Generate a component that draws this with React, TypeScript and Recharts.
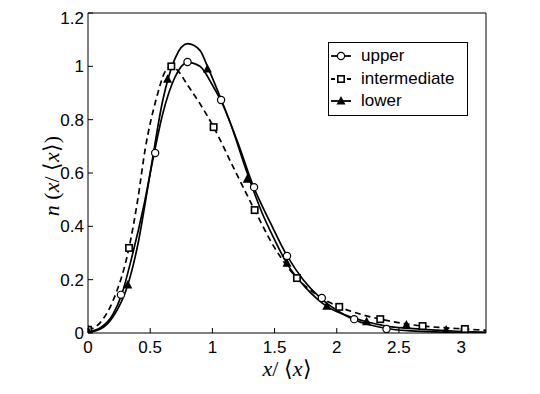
import { ComposedChart, Line, XAxis, YAxis, Legend } from 'recharts';

// smooth fitted curves as [x, y]
const upperCurve = [
  [0, 0.005], [0.1, 0.02], [0.2, 0.07], [0.27, 0.143], [0.35, 0.28], [0.45, 0.48],
  [0.53, 0.67], [0.6, 0.82], [0.7, 0.96], [0.8, 1.015], [0.9, 1.0], [1.0, 0.93],
  [1.07, 0.87], [1.2, 0.72], [1.33, 0.55], [1.47, 0.41], [1.6, 0.29], [1.73, 0.2],
  [1.87, 0.131], [2.0, 0.085], [2.13, 0.052], [2.27, 0.03], [2.4, 0.017], [2.6, 0.008],
  [2.8, 0.004], [3.0, 0.002], [3.2, 0.001],
];
const intermediateCurve = [
  [0, 0.01], [0.1, 0.04], [0.2, 0.12], [0.33, 0.32], [0.4, 0.5], [0.46, 0.69],
  [0.55, 0.88], [0.62, 0.98], [0.67, 1.0], [0.72, 0.985], [0.8, 0.93], [0.9, 0.86],
  [1.01, 0.772], [1.17, 0.62], [1.34, 0.461], [1.5, 0.32], [1.68, 0.206], [1.85, 0.14],
  [2.02, 0.098], [2.18, 0.072], [2.35, 0.052], [2.52, 0.037], [2.69, 0.026], [2.86, 0.02],
  [3.03, 0.015], [3.2, 0.01],
];
const lowerCurve = [
  [0, 0.003], [0.1, 0.015], [0.2, 0.06], [0.32, 0.18], [0.4, 0.33], [0.5, 0.6],
  [0.6, 0.87], [0.7, 1.03], [0.8, 1.085], [0.9, 1.06], [0.96, 1.0], [1.05, 0.9],
  [1.15, 0.78], [1.28, 0.6], [1.4, 0.45], [1.5, 0.35], [1.6, 0.26], [1.75, 0.17],
  [1.92, 0.1], [2.08, 0.065], [2.24, 0.042], [2.4, 0.026], [2.56, 0.018], [2.72, 0.013],
  [2.88, 0.009], [3.04, 0.005], [3.2, 0.003],
];

// measured points (markers)
const upperMarks = [
  [0, 0.012], [0.265, 0.143], [0.54, 0.675], [0.8, 1.016], [1.07, 0.874], [1.335, 0.547],
  [1.6, 0.289], [1.88, 0.131], [2.14, 0.052], [2.4, 0.015],
];
const intermediateMarks = [
  [0, 0.012], [0.33, 0.319], [0.67, 1.0], [1.01, 0.772], [1.34, 0.461], [1.68, 0.206],
  [2.02, 0.098], [2.35, 0.052], [2.69, 0.026], [3.03, 0.015],
];
const lowerMarks = [
  [0, 0.008], [0.32, 0.18], [0.64, 0.952], [0.96, 0.99], [1.28, 0.577], [1.6, 0.262],
  [1.92, 0.1], [2.24, 0.042], [2.56, 0.03], [2.88, 0.011],
];

const xTicks = [0, 0.5, 1, 1.5, 2, 2.5, 3];
const yTicks = [0, 0.2, 0.4, 0.6, 0.8, 1, 1.2];

const toRows = (pts: number[][]) => pts.map(([x, y]) => ({ x, y }));

const tickFont = { fontFamily: 'Liberation Sans, Arial, sans-serif', fontSize: 17, fill: '#000' };
const mathFont = 'Liberation Serif, Times New Roman, serif';

const Circle = (p: any) =>
  p.cx == null ? null : <circle key={p.index} cx={p.cx} cy={p.cy} r={3.6} fill="#fff" stroke="#000" strokeWidth={1.2} />;
const Square = (p: any) =>
  p.cx == null ? null : (
    <rect key={p.index} x={p.cx - 3.2} y={p.cy - 3.2} width={6.4} height={6.4} fill="#fff" stroke="#000" strokeWidth={1.6} />
  );
const Triangle = (p: any) =>
  p.cx == null ? null : (
    <polygon
      key={p.index}
      points={`${p.cx},${p.cy - 5} ${p.cx - 4.5},${p.cy + 3.5} ${p.cx + 4.5},${p.cy + 3.5}`}
      fill="#000"
    />
  );

const legendItems = [
  { name: 'upper', dash: undefined, mark: 'circle' },
  { name: 'intermediate', dash: '4 4', mark: 'square' },
  { name: 'lower', dash: undefined, mark: 'triangle' },
];

const LegendBox = () => (
  <div
    style={{
      border: '1px solid #000',
      background: '#fff',
      width: 138,
      padding: '2px 0 2px 0',
      fontFamily: 'Liberation Sans, Arial, sans-serif',
      fontSize: 17,
      lineHeight: '22.5px',
      color: '#000',
    }}
  >
    {legendItems.map((it) => (
      <div key={it.name} style={{ display: 'flex', alignItems: 'center', height: 22.5 }}>
        <svg width={32} height={22} style={{ flex: 'none' }}>
          <line x1={2} x2={22} y1={11} y2={11} stroke="#000" strokeWidth={1.8} strokeDasharray={it.dash} />
          {it.mark === 'circle' && <Circle cx={12} cy={11} />}
          {it.mark === 'square' && <Square cx={12} cy={11} />}
          {it.mark === 'triangle' && <Triangle cx={12} cy={11} />}
        </svg>
        <span>{it.name}</span>
      </div>
    ))}
  </div>
);

const XTitle = ({ viewBox }: any) => (
  <text x={viewBox.x + viewBox.width / 2} y={viewBox.y + 43} textAnchor="middle" fontFamily={mathFont} fontSize={22} fill="#000">
    <tspan fontStyle="italic">x</tspan>
    <tspan>/ ⟨</tspan>
    <tspan fontStyle="italic">x</tspan>
    <tspan>⟩</tspan>
  </text>
);

const YTitle = ({ viewBox }: any) => {
  const cx = 43;
  const cy = viewBox.y + viewBox.height / 2 + 3;
  return (
    <text x={cx} y={cy} transform={`rotate(-90 ${cx} ${cy})`} textAnchor="middle" dominantBaseline="central" fontFamily={mathFont} fontSize={22} fill="#000">
      <tspan fontStyle="italic">n</tspan>
      <tspan> (</tspan>
      <tspan fontStyle="italic">x</tspan>
      <tspan>/ ⟨</tspan>
      <tspan fontStyle="italic">x</tspan>
      <tspan>⟩)</tspan>
    </text>
  );
};

export default function App() {
  return (
    <div style={{ width: 532, height: 386, position: 'relative', background: '#fff' }}>
      <ComposedChart width={532} height={386} margin={{ top: 4, right: 53, bottom: 21, left: 0 }}>
        <XAxis
          xAxisId="b"
          dataKey="x"
          type="number"
          domain={[0, 3.2]}
          ticks={xTicks}
          allowDataOverflow
          height={40}
          tickSize={-5}
          tickMargin={13}
          tick={tickFont}
          stroke="#000"
          tickFormatter={(v) => String(v)}
          label={<XTitle />}
        />
        <XAxis
          xAxisId="t"
          orientation="top"
          dataKey="x"
          type="number"
          domain={[0, 3.2]}
          ticks={xTicks}
          allowDataOverflow
          height={1}
          tickSize={-5}
          tick={false}
          stroke="#000"
        />
        <YAxis
          yAxisId="l"
          dataKey="y"
          type="number"
          domain={[0, 1.2]}
          ticks={yTicks}
          allowDataOverflow
          width={80}
          tickSize={-5}
          tickMargin={9}
          tick={tickFont}
          stroke="#000"
          tickFormatter={(v) => String(v)}
          label={<YTitle />}
        />
        <YAxis
          yAxisId="r"
          orientation="right"
          dataKey="y"
          type="number"
          domain={[0, 1.2]}
          ticks={yTicks}
          allowDataOverflow
          width={1}
          tickSize={-5}
          tick={false}
          stroke="#000"
        />
        <Legend
          layout="vertical"
          align="center"
          verticalAlign="middle"
          wrapperStyle={{ left: 320, top: 34, width: 140 }}
          content={() => <LegendBox />}
        />
        <Line xAxisId="b" yAxisId="l" data={toRows(upperCurve)} dataKey="y" type="monotone" stroke="#000" strokeWidth={1.7} dot={false} isAnimationActive={false} />
        <Line xAxisId="b" yAxisId="l" data={toRows(intermediateCurve)} dataKey="y" type="monotone" stroke="#000" strokeWidth={1.7} strokeDasharray="6 4" dot={false} isAnimationActive={false} />
        <Line xAxisId="b" yAxisId="l" data={toRows(lowerCurve)} dataKey="y" type="monotone" stroke="#000" strokeWidth={1.7} dot={false} isAnimationActive={false} />
        <Line xAxisId="b" yAxisId="l" data={toRows(upperMarks)} dataKey="y" stroke="none" dot={<Circle />} activeDot={false} legendType="none" isAnimationActive={false} />
        <Line xAxisId="b" yAxisId="l" data={toRows(intermediateMarks)} dataKey="y" stroke="none" dot={<Square />} activeDot={false} legendType="none" isAnimationActive={false} />
        <Line xAxisId="b" yAxisId="l" data={toRows(lowerMarks)} dataKey="y" stroke="none" dot={<Triangle />} activeDot={false} legendType="none" isAnimationActive={false} />
      </ComposedChart>
    </div>
  );
}
